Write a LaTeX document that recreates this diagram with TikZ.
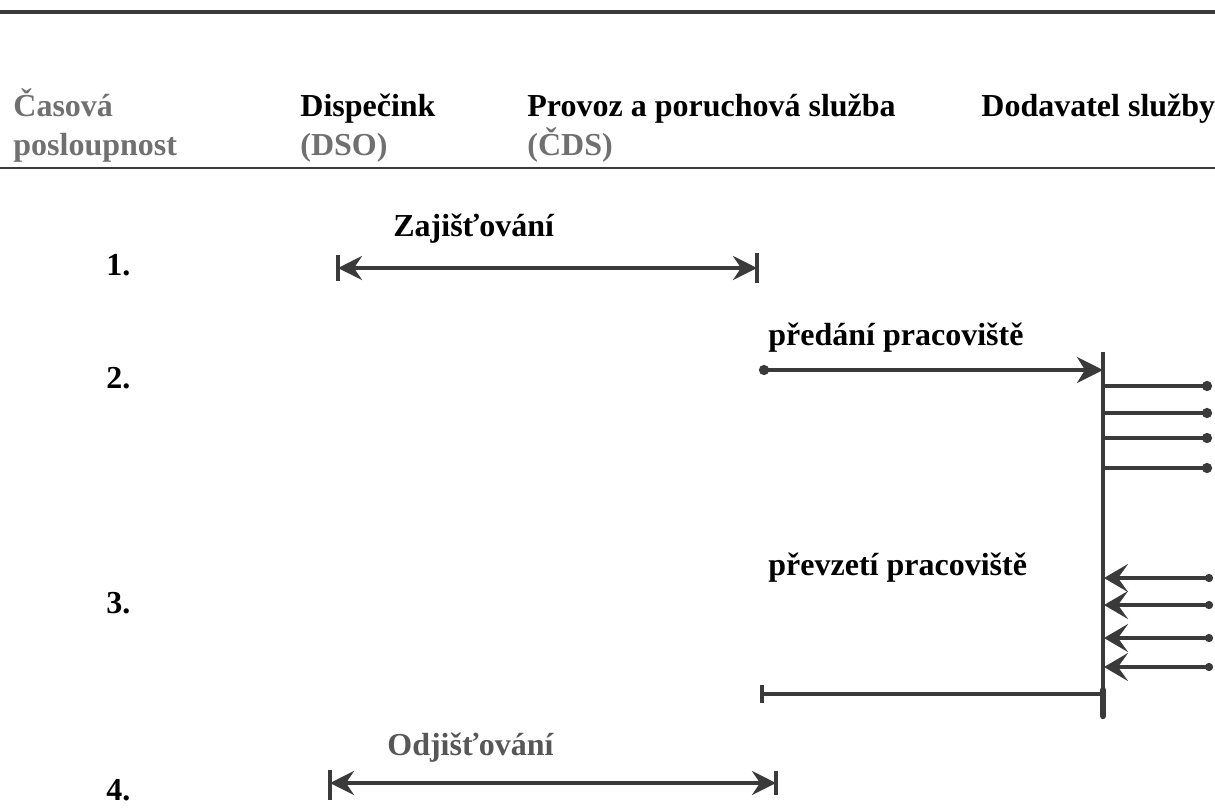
\documentclass[tikz,border=0pt]{standalone}
\usepackage{fontspec}
\setmainfont{Liberation Serif}
\usetikzlibrary{arrows.meta}
\definecolor{ink}{HTML}{3A3A3A}
\definecolor{greytext}{HTML}{707070}
\begin{document}
\begin{tikzpicture}[x=0.5pt,y=-0.5pt]
\tikzstyle{every node}+=[inner sep=0pt,anchor=base west,font=\fontsize{16}{20}\selectfont\bfseries]
\tikzstyle{grey}=[text=greytext]
\tikzstyle{flow}=[ink,line width=1.8pt]
\tikzstyle{bothtip}=[{Stealth[length=12pt,width=12pt,inset=4pt]}-{Stealth[length=12pt,width=12pt,inset=4pt]}]
\useasboundingbox (0,0) rectangle (1215,811);
% rules
\draw [ink,line width=1.6pt] (0,12) -- (1215,12);
\draw [ink,line width=1.2pt] (0,168) -- (1215,168);
% header
\node [grey] (cas) at (13,116) {Časová};
\node [grey] (posl) at (13,155) {posloupnost};
\node (disp) at (300,116) {Dispečink};
\node [grey] (dso) at (300,155) {(DSO)};
\node (prov) at (527,116) {Provoz a poruchová služba};
\node [grey] (cds) at (527,155) {(ČDS)};
\node (dod) at (981,116) {Dodavatel služby};
% steps
\node (s1) at (106,275) {1.};
\node (s2) at (106,388) {2.};
\node (s3) at (106,613) {3.};
\node (s4) at (106,800) {4.};
% 1. zajistovani
\node (zaj) at (393,236) {Zajišťování};
\coordinate (zajL) at (338,268);
\coordinate (zajR) at (757,268);
\draw [flow,bothtip] (zajL) -- (zajR);
\draw [flow] (zajL) ++(0,-13) -- ++(0,26);
\draw [flow] (zajR) ++(0,-15) -- ++(0,30);
% 2. predani
\node (pred) at (768,345) {předání pracoviště};
\coordinate (predL) at (759,370);
\coordinate (bus) at (1103,370);
\coordinate (busT) at (1103,352);
\coordinate (busB) at (1103,716);
\draw [flow,{Circle[length=5pt]}-{Stealth[length=13pt,width=13pt,inset=4pt]}] (predL) -- (bus);
\draw [flow] (busT) -- (busB);
\draw [ink,line width=3.2pt,line cap=round] (1103,690) -- (busB);
\foreach \y in {386,413,438,468}
  \draw [flow,-{Circle[length=5pt]}] (1103,\y) -- (1212,\y);
% 3. prevzeti
\node (prev) at (768,575) {převzetí pracoviště};
\foreach \y in {578,605,638,667}
  \draw [flow,{Circle[length=4pt]}-{Stealth[length=12pt,width=14pt,inset=5pt]}] (1213,\y) -- (1104,\y);
\coordinate (retR) at (1103,694);
\coordinate (retL) at (762,694);
\draw [flow] (retR) -- (retL);
\draw [flow] (retL) ++(0,-9) -- ++(0,18);
% 4. odjistovani
\node [text=ink!85] (odj) at (387,755) {Odjišťování};
\coordinate (odjL) at (330,783);
\coordinate (odjR) at (776,783);
\draw [flow,bothtip] (odjL) -- (odjR);
\draw [flow] (odjL) ++(0,-13) -- ++(0,30);
\draw [flow] (odjR) ++(0,-12) -- ++(0,24);
\end{tikzpicture}
\end{document}
